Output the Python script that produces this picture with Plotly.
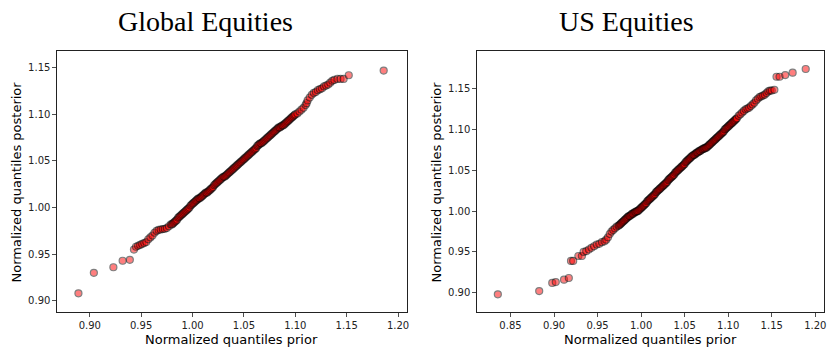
import plotly.graph_objects as go

# ---------------- data ----------------
global_prior = [0.889, 0.904, 0.923, 0.932, 0.939, 0.943, 0.945, 0.947, 0.949, 0.951, 0.953, 0.955, 0.957, 0.959,
                0.961, 0.963, 0.965, 0.967, 0.969, 0.971, 0.973, 0.975, 0.977, 0.979,
                0.980, 0.981, 0.982, 0.983, 0.984, 0.985, 0.986, 0.987, 0.988, 0.989, 0.990, 0.991, 0.992, 0.993,
                0.994, 0.995, 0.996, 0.997, 0.998, 0.999, 1.000, 1.001, 1.002, 1.003, 1.004, 1.005, 1.006, 1.007,
                1.008, 1.009, 1.010, 1.011, 1.012, 1.013, 1.014, 1.015, 1.016, 1.017, 1.018, 1.019, 1.020, 1.021,
                1.022, 1.023, 1.024, 1.025, 1.026, 1.027, 1.028, 1.029, 1.030, 1.031, 1.032, 1.033, 1.034, 1.035,
                1.036, 1.037, 1.038, 1.039, 1.040, 1.041, 1.042, 1.043, 1.044, 1.045, 1.046, 1.047, 1.048, 1.049,
                1.050, 1.051, 1.052, 1.053, 1.054, 1.055, 1.056, 1.057, 1.058, 1.059, 1.060, 1.061, 1.062, 1.063,
                1.064, 1.065, 1.066, 1.067, 1.068, 1.069, 1.070, 1.071, 1.072, 1.073, 1.074, 1.075, 1.076, 1.077,
                1.078, 1.079, 1.080, 1.081, 1.082, 1.083, 1.084, 1.085, 1.086, 1.087, 1.088, 1.089, 1.090, 1.091,
                1.092, 1.093, 1.094, 1.095, 1.096, 1.097, 1.098, 1.099, 1.100,
                1.102, 1.104, 1.106, 1.108, 1.110, 1.111, 1.112, 1.114, 1.116, 1.118, 1.120,
                1.122, 1.124, 1.126, 1.128, 1.130, 1.132, 1.134, 1.136, 1.138, 1.141, 1.144, 1.147, 1.152, 1.186]
global_post = [0.908, 0.930, 0.936, 0.943, 0.944, 0.955, 0.958, 0.959, 0.960, 0.961, 0.962, 0.963, 0.966, 0.968,
               0.970, 0.973, 0.975, 0.976, 0.9765, 0.977, 0.9772, 0.978, 0.980, 0.982,
               0.982, 0.983, 0.984, 0.985, 0.986, 0.987, 0.989, 0.990, 0.991, 0.992, 0.993, 0.994, 0.995, 0.996,
               0.997, 0.998, 0.999, 1.000, 1.002, 1.003, 1.004, 1.005, 1.006, 1.007, 1.008, 1.009, 1.010, 1.010,
               1.011, 1.012, 1.013, 1.014, 1.015, 1.016, 1.016, 1.017, 1.018, 1.019, 1.020, 1.021, 1.022, 1.024,
               1.025, 1.026, 1.027, 1.028, 1.029, 1.030, 1.031, 1.032, 1.033, 1.033, 1.034, 1.035, 1.036, 1.037,
               1.038, 1.039, 1.040, 1.041, 1.042, 1.043, 1.044, 1.045, 1.046, 1.047, 1.048, 1.049, 1.050, 1.051,
               1.052, 1.053, 1.054, 1.055, 1.056, 1.057, 1.058, 1.059, 1.060, 1.061, 1.062, 1.063, 1.064, 1.066,
               1.067, 1.068, 1.069, 1.069, 1.070, 1.071, 1.072, 1.073, 1.074, 1.075, 1.076, 1.077, 1.078, 1.079,
               1.080, 1.081, 1.082, 1.083, 1.084, 1.085, 1.086, 1.086, 1.087, 1.088, 1.088, 1.089, 1.090, 1.091,
               1.092, 1.093, 1.094, 1.095, 1.096, 1.097, 1.098, 1.099, 1.100,
               1.101, 1.103, 1.105, 1.107, 1.110, 1.112, 1.115, 1.118, 1.121, 1.123, 1.124,
               1.126, 1.127, 1.128, 1.130, 1.131, 1.132, 1.134, 1.136, 1.137, 1.138, 1.138, 1.138, 1.142, 1.147]

us_prior = [0.8355, 0.883, 0.898, 0.902, 0.9115, 0.917, 0.9195, 0.922, 0.928, 0.932, 0.934, 0.937, 0.940, 0.943,
            0.946, 0.949, 0.952, 0.955, 0.958, 0.960, 0.962, 0.964, 0.966, 0.968, 0.970, 0.972, 0.974,
            0.975, 0.976, 0.977, 0.978, 0.979, 0.980, 0.981, 0.982, 0.983, 0.984, 0.985, 0.986, 0.987, 0.988,
            0.989, 0.990, 0.991, 0.992, 0.993, 0.994, 0.995, 0.996, 0.997, 0.998, 0.999, 1.000, 1.001, 1.002,
            1.003, 1.004, 1.005, 1.006, 1.007, 1.008, 1.009, 1.010, 1.011, 1.012, 1.013, 1.014, 1.015, 1.016,
            1.017, 1.018, 1.019, 1.020, 1.021, 1.022, 1.023, 1.024, 1.025, 1.026, 1.027, 1.028, 1.029, 1.030,
            1.031, 1.032, 1.033, 1.034, 1.035, 1.036, 1.037, 1.038, 1.039, 1.040, 1.041, 1.042, 1.043, 1.044,
            1.045, 1.046, 1.047, 1.048, 1.049, 1.050, 1.051, 1.052, 1.053, 1.054, 1.055, 1.056, 1.057, 1.058,
            1.059, 1.060, 1.061, 1.062, 1.063, 1.064, 1.065, 1.066, 1.067, 1.068, 1.069, 1.070, 1.071, 1.072,
            1.073, 1.074, 1.075, 1.076, 1.077, 1.078, 1.079, 1.080, 1.081, 1.082, 1.083, 1.084, 1.085, 1.086,
            1.087, 1.088, 1.089, 1.090, 1.091, 1.092, 1.093, 1.094, 1.095, 1.096, 1.097, 1.098, 1.099, 1.100,
            1.101, 1.102, 1.103, 1.104, 1.105, 1.106, 1.107, 1.108, 1.109, 1.110,
            1.112, 1.114, 1.116, 1.118, 1.120, 1.122, 1.124, 1.126, 1.128, 1.130, 1.132, 1.134, 1.136, 1.138,
            1.140, 1.142, 1.144, 1.146, 1.148, 1.150, 1.153, 1.1555, 1.159, 1.1655, 1.174, 1.189]
us_post = [0.898, 0.902, 0.912, 0.913, 0.916, 0.918, 0.939, 0.939, 0.945, 0.945, 0.950, 0.951, 0.953, 0.955,
           0.957, 0.959, 0.960, 0.962, 0.963, 0.965, 0.968, 0.972, 0.975, 0.977, 0.979, 0.981, 0.982,
           0.983, 0.984, 0.985, 0.986, 0.987, 0.988, 0.989, 0.990, 0.991, 0.992, 0.993, 0.994, 0.994, 0.995,
           0.996, 0.997, 0.997, 0.998, 0.999, 0.999, 1.000, 1.000, 1.001, 1.002, 1.003, 1.004, 1.005, 1.006,
           1.007, 1.008, 1.009, 1.010, 1.012, 1.013, 1.014, 1.015, 1.016, 1.017, 1.018, 1.019, 1.020, 1.021,
           1.023, 1.024, 1.025, 1.026, 1.027, 1.028, 1.029, 1.030, 1.031, 1.032, 1.033, 1.034, 1.035, 1.036,
           1.038, 1.039, 1.040, 1.041, 1.042, 1.043, 1.044, 1.045, 1.047, 1.048, 1.049, 1.050, 1.051, 1.052,
           1.053, 1.054, 1.055, 1.056, 1.057, 1.058, 1.060, 1.061, 1.062, 1.063, 1.064, 1.065, 1.066, 1.067,
           1.068, 1.069, 1.069, 1.070, 1.071, 1.072, 1.072, 1.073, 1.074, 1.074, 1.075, 1.076, 1.076, 1.077,
           1.077, 1.078, 1.078, 1.079, 1.080, 1.081, 1.082, 1.083, 1.084, 1.085, 1.086, 1.087, 1.088, 1.089,
           1.090, 1.091, 1.092, 1.093, 1.094, 1.095, 1.096, 1.097, 1.098, 1.100, 1.101, 1.102, 1.103, 1.104,
           1.105, 1.106, 1.107, 1.108, 1.109, 1.110, 1.111, 1.112, 1.113, 1.114,
           1.117, 1.119, 1.121, 1.123, 1.125, 1.126, 1.127, 1.129, 1.131, 1.133, 1.136, 1.138, 1.140, 1.141,
           1.142, 1.143, 1.145, 1.147, 1.148, 1.148, 1.149, 1.165, 1.165, 1.167, 1.170, 1.1745]

titles = ["Global Equities", "US Equities"]
x_label = "Normalized quantiles prior"
y_label = "Normalized quantiles posterior"
left_xticks = [0.90, 0.95, 1.00, 1.05, 1.10, 1.15, 1.20]
right_xticks = [0.85, 0.90, 0.95, 1.00, 1.05, 1.10, 1.15, 1.20]
yticks = [0.90, 0.95, 1.00, 1.05, 1.10, 1.15]

# ---------------- layout ----------------
W, H = 827, 348
def px(x):
    return x / W
def py(y):
    return 1 - y / H

marker = dict(color="red", size=7, opacity=0.5, line=dict(color="black", width=1.2))

fig = go.Figure()
fig.add_trace(go.Scatter(x=global_prior, y=global_post, mode="markers", marker=marker,
                         xaxis="x", yaxis="y", showlegend=False, hoverinfo="skip"))
fig.add_trace(go.Scatter(x=us_prior, y=us_post, mode="markers", marker=marker,
                         xaxis="x2", yaxis="y2", showlegend=False, hoverinfo="skip"))

ax_common = dict(showgrid=False, zeroline=False, showline=True, mirror=True, linecolor="#222",
                 linewidth=1, ticks="outside", ticklen=3.5, tickwidth=0.8, tickcolor="#222",
                 tickformat=".2f", tickfont=dict(family="DejaVu Sans", size=10, color="#222"))

fig.update_layout(
    width=W, height=H, margin=dict(l=0, r=0, t=0, b=0),
    paper_bgcolor="white", plot_bgcolor="white",
    xaxis=dict(domain=[px(57), px(408)], range=[0.868, 1.2087], tickvals=left_xticks, anchor="y", **ax_common),
    yaxis=dict(domain=[py(312), py(51)], range=[0.888, 1.168], tickvals=yticks, anchor="x", **ax_common),
    xaxis2=dict(domain=[px(478), px(826)], range=[0.8114, 1.210], tickvals=right_xticks, anchor="y2", **ax_common),
    yaxis2=dict(domain=[py(312), py(51)], range=[0.8763, 1.1966], tickvals=yticks, anchor="x2", **ax_common),
)

ann = []
for cx, t in [(206, titles[0]), (628, titles[1])]:
    ann.append(dict(x=px(cx), y=py(22), xref="paper", yref="paper", text=t, showarrow=False,
                    font=dict(family="Liberation Serif", size=28, color="black"), xanchor="center", yanchor="middle"))
for cx in [232.5, 652]:
    ann.append(dict(x=px(cx), y=py(339), xref="paper", yref="paper", text=x_label, showarrow=False,
                    font=dict(family="DejaVu Sans", size=13, color="black"), xanchor="center", yanchor="middle"))
for cx in [17, 438]:
    ann.append(dict(x=px(cx), y=py(181.5), xref="paper", yref="paper", text=y_label, showarrow=False, textangle=-90,
                    font=dict(family="DejaVu Sans", size=13, color="black"), xanchor="center", yanchor="middle"))
fig.update_layout(annotations=ann)

fig.write_html("out.html", config={"displayModeBar": False, "staticPlot": True},
               post_script="document.body.style.margin='0';document.body.style.padding='0';"
                           "document.body.style.overflow='hidden';")
